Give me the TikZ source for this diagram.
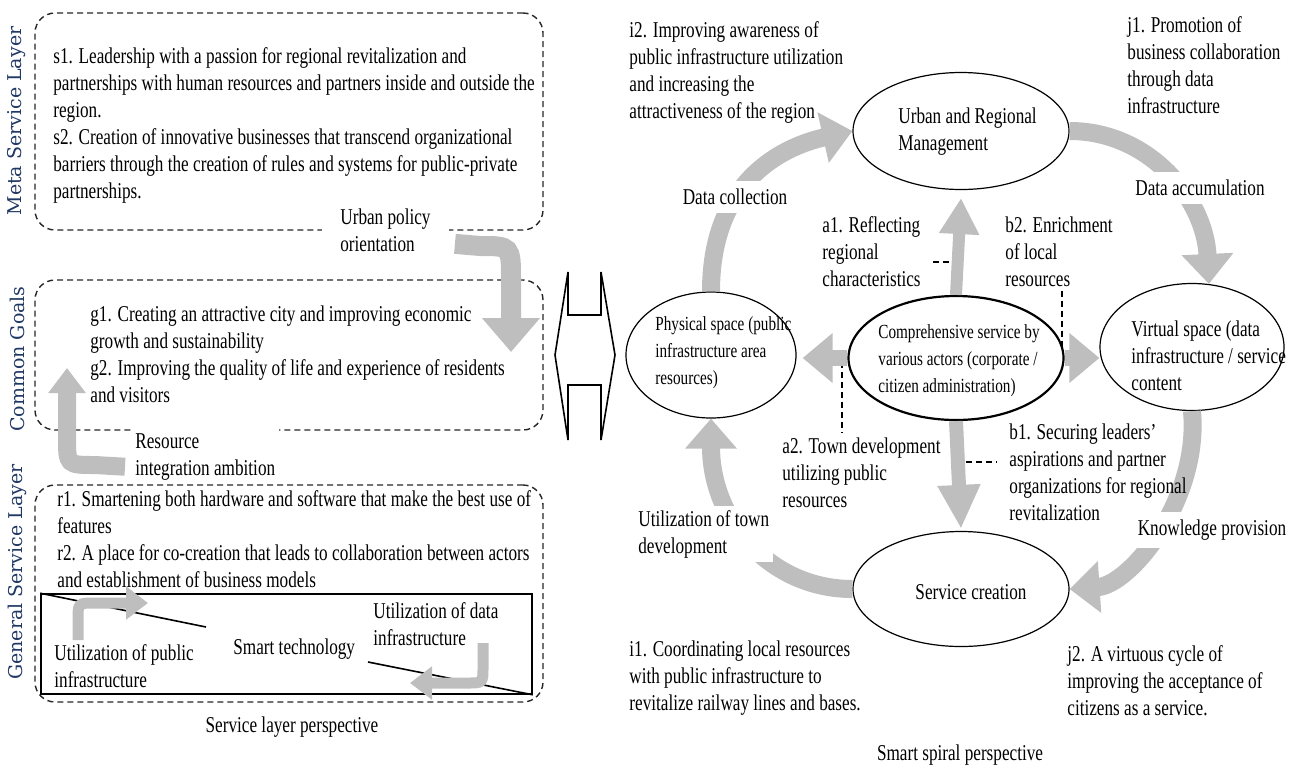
\documentclass[tikz,border=0pt]{standalone}
\usepackage{fontspec}
\setmainfont{Liberation Serif}[FakeStretch=0.76]
\newfontfamily\sidefont{DejaVu Serif}
\usetikzlibrary{shapes.geometric,arrows.meta}

\definecolor{arrowgray}{RGB}{190,190,190}
\definecolor{layerblue}{RGB}{32,56,100}

\begin{document}
\begin{tikzpicture}[x=0.5pt, y=-0.5pt,
    txt/.style={anchor=north west, align=left, inner sep=2pt, font=\fontsize{11.3}{13.5}\selectfont},
    lbl/.style={inner sep=2pt, font=\fontsize{11.3}{13.5}\selectfont},
    ovaltxt/.style={anchor=north west, align=left, inner sep=2pt, font=\fontsize{10}{13.5}\selectfont},
    sidelabel/.style={rotate=90, inner sep=0pt, text=layerblue, font=\sidefont\fontsize{9.5}{11}\selectfont},
    layerbox/.style={draw=black!85, line width=0.7pt, dash pattern=on 3pt off 2pt, rounded corners=10pt, inner sep=0pt},
    oval/.style={ellipse, draw, line width=0.6pt, fill=white, inner sep=0pt},
    cyclearrow/.style={arrowgray, line width=9pt, -{Triangle[length=15pt, width=25pt]}},
    vertarrow/.style={arrowgray, line width=6pt, -{Triangle[length=18pt, width=19pt]}},
    horzarrow/.style={arrowgray, line width=8pt, -{Triangle[length=15pt, width=24pt]}},
    bendarrow/.style={arrowgray, line width=10pt, -{Triangle[length=17pt, width=28pt]}},
    smallbend/.style={arrowgray, line width=5.5pt, -{Triangle[length=11pt, width=16pt]}},
    leader/.style={densely dashed, line width=0.6pt}]
\useasboundingbox (0,0) rectangle (1290,767);

% left: service layers
\node (meta) [layerbox, minimum width=254pt, minimum height=108.5pt] at (289,121.5) {};
\node (goals) [layerbox, minimum width=254pt, minimum height=75pt] at (289,355) {};
\node (general) [layerbox, minimum width=254pt, minimum height=108.5pt] at (289,593.5) {};
\node (techbox) [draw, line width=0.8pt, minimum width=245.5pt, minimum height=50pt, inner sep=0pt] at (286.5,644) {};

\coordinate (diagA) at (206,627);
\coordinate (diagB) at (368,662);
\draw[line width=0.8pt] (techbox.north west) -- (diagA);
\draw[line width=0.8pt] (diagB) -- (techbox.south east);

\node (metalbl) [sidelabel] at (17,121) {Meta Service Layer};
\node (goalslbl) [sidelabel] at (17,359) {Common Goals};
\node (generallbl) [sidelabel] at (17,572) {General Service Layer};

\node (stext) [txt] at (49,43) {s1. Leadership with a passion for regional revitalization and\\
partnerships with human resources and partners inside and outside the\\
region.\\
s2. Creation of innovative businesses that transcend organizational\\
barriers through the creation of rules and systems for public-private\\
partnerships.};
\node (gtext) [txt] at (86,301) {g1. Creating an attractive city and improving economic\\
growth and sustainability\\
g2. Improving the quality of life and experience of residents\\
and visitors};
\node (rtext) [txt] at (53,486) {r1. Smartening both hardware and software that make the best use of\\
features\\
r2. A place for co-creation that leads to collaboration between actors\\
and establishment of business models};

\node (upol) [txt, fill=white, inner xsep=9pt] at (322,204) {Urban policy\\orientation};
\node (res) [txt, fill=white] at (131,429) {Resource\\integration ambition};
\node (upub) [txt] at (50,640) {Utilization of public\\infrastructure};
\node (smart) [txt] at (229,634) {Smart technology};
\node (udata) [txt] at (369,598) {Utilization of data\\infrastructure};
\node (svclayer) [lbl] at (292,727) {Service layer perspective};

\coordinate (polend) at (511,352);
\coordinate (resend) at (67,368);
\coordinate (pubend) at (148,603);
\coordinate (datatop) at (483,643);
\coordinate (dataend) at (410,683);
\draw[bendarrow] ([xshift=3pt,yshift=-7pt]upol.east) -- (480,246) .. controls (511,246) .. (511,280) -- (polend);
\draw[bendarrow, line width=9pt, -{Triangle[length=12.5pt, width=18pt]}] ([xshift=-3pt,yshift=-5pt]res.west) -- (95,465) .. controls (67,465) .. (67,437) -- (resend);
\draw[smallbend] ([xshift=14pt]upub.north west) -- (78,620) .. controls (78,603) .. (95,603) -- (pubend);
\draw[smallbend] (datatop) -- (483,667) .. controls (483,683) .. (467,683) -- (dataend);

% double arrow between the two views
\draw[line width=0.8pt] (555,355) -- (568,272) -- (568,315) -- (601,315) -- (601,272) -- (615,355)
  -- (601,440) -- (601,385) -- (568,385) -- (568,440) -- cycle;

% right: smart spiral
\node (urban) [oval, minimum width=108pt, minimum height=58.5pt] at (961,131) {};
\node (phys) [oval, minimum width=85pt, minimum height=63pt] at (711,355) {};
\node (comp) [oval, line width=1.1pt, minimum width=107.5pt, minimum height=62pt] at (956,358) {};
\node (virt) [oval, minimum width=92pt, minimum height=63.5pt] at (1192,347) {};
\node (serv) [oval, minimum width=108pt, minimum height=57.5pt] at (961,589) {};

\draw[cyclearrow] (phys.north) .. controls (711,175) and (790,145) .. (urban.west);
\draw[cyclearrow] (urban.east) .. controls (1150,131) and (1205,200) .. (virt.75);
\draw[cyclearrow] (virt.south) .. controls (1200,500) and (1130,585) .. (serv.east);
\draw[cyclearrow] (serv.west) .. controls (770,589) and (711,520) .. (phys.south);

\node (urbantxt) [txt] at (894,103) {Urban and Regional\\Management};
\node (comptxt) [ovaltxt] at (874,320) {Comprehensive service by\\various actors (corporate /\\citizen administration)};
\node (phystxt) [ovaltxt] at (651,312) {Physical space (public\\infrastructure area\\resources)};
\node (virttxt) [txt] at (1127,316) {Virtual space (data\\infrastructure / service\\content};
\node (servtxt) [lbl] at (971,592) {Service creation};

\node (collect) [lbl, fill=white, inner sep=4pt] at (735,197) {Data collection};
\node (accum) [lbl, fill=white, inner sep=4pt] at (1200,188) {Data accumulation};
\node (knowl) [lbl, fill=white, inner sep=4pt] at (1212,530) {Knowledge provision};
\node (towndev) [txt, fill=white] at (634,506) {Utilization of town\\development};

\node (i2) [txt] at (625,17) {i2. Improving awareness of\\public infrastructure utilization\\and increasing the\\attractiveness of the region};
\node (j1) [txt] at (1123,12) {j1. Promotion of\\business collaboration\\through data\\infrastructure};
\node (a1) [txt] at (818,212) {a1. Reflecting\\regional\\characteristics};
\node (b2) [txt] at (1001,212) {b2. Enrichment\\of local\\resources};
\node (a2) [txt] at (778,433) {a2. Town development\\utilizing public\\resources};
\node (b1) [txt] at (1005,419) {b1. Securing leaders’\\aspirations and partner\\organizations for regional\\revitalization};
\node (i1) [txt] at (625,636) {i1. Coordinating local resources\\with public infrastructure to\\revitalize railway lines and bases.};
\node (j2) [txt] at (1063,641) {j2. A virtuous cycle of\\improving the acceptance of\\citizens as a service.};
\node (spiral) [lbl] at (960,755) {Smart spiral perspective};

% dashed leaders to the arrows
\coordinate (upmid) at (956,262);
\coordinate (rightmid) at (1062,350);
\coordinate (leftmid) at (842,362);
\coordinate (downmid) at (956,462);
\draw[leader] ([xshift=4pt]upmid -| a1.east) -- (upmid);
\draw[leader] (rightmid |- b2.south) -- (rightmid);
\draw[leader] (leftmid) -- (leftmid |- a2.north);
\draw[leader] (downmid) -- ([xshift=-4pt]downmid -| b1.west);

\draw[vertarrow] (comp.north) -- ([yshift=-4pt]urban.south);
\draw[vertarrow, line width=7pt, -{Triangle[length=22pt, width=20pt]}] (comp.south) -- ([yshift=1pt]serv.north);
\draw[horzarrow] (comp.west) -- ([xshift=3pt]comp.west -| phys.east);
\draw[horzarrow] (comp.east) -- (comp.east -| virt.west);
\end{tikzpicture}
\end{document}
